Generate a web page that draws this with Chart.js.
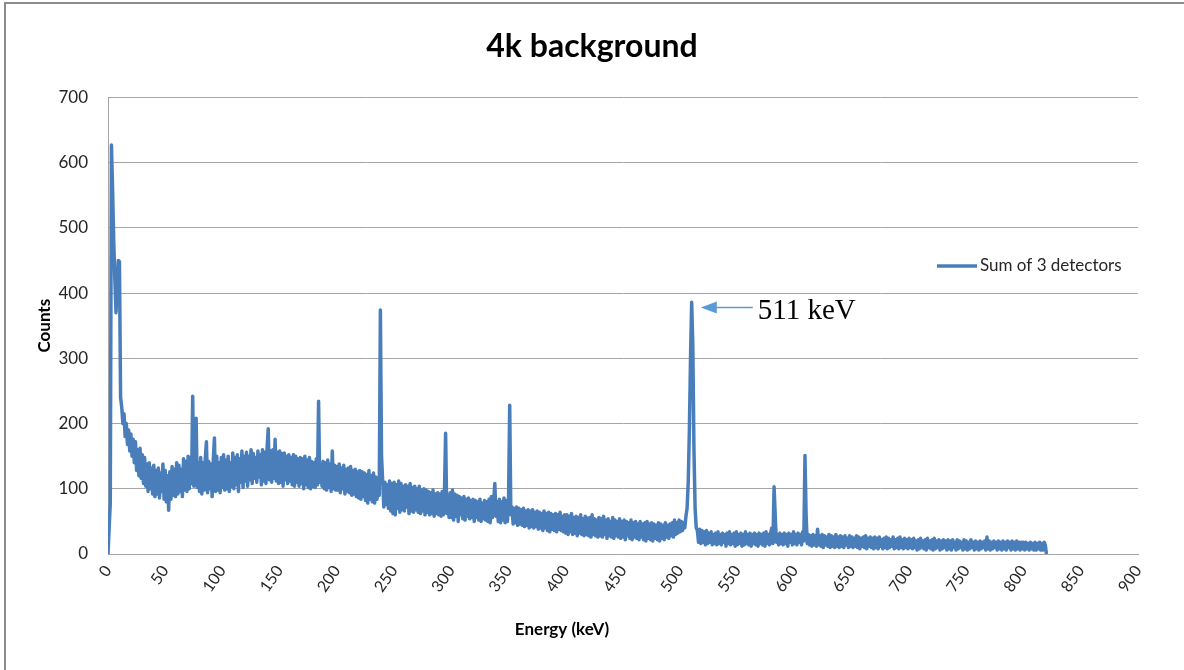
<!DOCTYPE html>
<html lang="en">
<head>
    <meta charset="UTF-8">
    <title>4k background</title>
    <script src="https://cdn.jsdelivr.net/npm/chart.js"></script>
    <style>
        body {
            margin: 0;
            background: #ffffff;
        }
        #wrap {
            width: 1184px;
            height: 670px;
        }
    </style>
</head>
<body>
    <div id="wrap">
        <canvas id="spectrum" width="1184" height="670"></canvas>
    </div>

    <script>
        // Spectrum, one value per 1 keV bin starting at 0 keV.
        // Neighbouring bins swing between the top and bottom of the noise band.
        const binWidth = 1;

        const counts000 = [
            0, 40, 78, 627, 560, 480, 420, 370, 410, 450,
            448, 240, 225, 200, 215, 180, 200, 168, 190, 158,
            184, 150, 176, 140, 172, 128, 160, 120, 162, 116,
            152, 108, 148, 104, 138, 96, 140, 100, 132, 92,
            136, 88, 128, 92, 132, 86, 124, 96, 138, 84,
            128, 80, 120, 67, 126, 84, 134, 90, 130, 88,
            140, 92, 136, 96, 130, 88, 146, 98, 142, 96,
            150, 100, 148, 108, 242, 104, 126, 208, 102, 140,
            96, 148, 92, 140, 98, 146, 172, 94, 142, 100,
            138, 88, 144, 178, 96, 150, 98, 140, 94, 148];
        const counts100 = [
            102, 152, 98, 144, 100, 150, 96, 140, 104, 155,
            100, 148, 106, 152, 96, 146, 110, 158, 102, 150,
            112, 156, 104, 150, 114, 160, 108, 154, 116, 148,
            110, 158, 118, 152, 106, 160, 112, 156, 108, 162,
            192, 114, 158, 110, 160, 116, 176, 112, 156, 108,
            158, 110, 154, 104, 155, 114, 150, 108, 152, 112,
            148, 106, 152, 104, 150, 110, 146, 104, 148, 108,
            146, 100, 150, 106, 144, 102, 148, 100, 142, 104,
            140, 102, 146, 106, 234, 110, 138, 104, 142, 100,
            140, 98, 144, 102, 138, 96, 158, 100, 136, 98];
        const counts200 = [
            134, 98, 138, 94, 132, 100, 136, 92, 130, 96,
            132, 94, 134, 90, 128, 92, 130, 88, 126, 86,
            128, 84, 126, 88, 124, 82, 122, 78, 128, 84,
            120, 80, 124, 78, 118, 84, 100, 90, 374, 150,
            112, 72, 110, 76, 106, 70, 112, 66, 108, 62,
            110, 60, 106, 70, 112, 64, 108, 68, 104, 66,
            106, 72, 104, 62, 108, 66, 102, 64, 104, 68,
            100, 64, 104, 62, 98, 66, 100, 60, 98, 64,
            96, 60, 94, 62, 98, 58, 92, 62, 94, 60,
            92, 58, 96, 60, 94, 185, 62, 90, 56, 94];
        const counts300 = [
            56, 98, 52, 92, 58, 90, 50, 88, 60, 86,
            54, 88, 52, 84, 58, 86, 54, 82, 56, 84,
            50, 82, 56, 80, 52, 84, 50, 78, 54, 82,
            52, 80, 50, 84, 48, 88, 56, 82, 108, 58,
            80, 50, 84, 48, 80, 52, 86, 48, 82, 50,
            84, 228, 60, 72, 46, 70, 48, 72, 44, 70,
            46, 68, 44, 70, 42, 66, 44, 68, 40, 66,
            42, 68, 40, 64, 42, 66, 38, 64, 40, 62,
            36, 66, 40, 62, 36, 64, 34, 62, 38, 60,
            36, 62, 34, 60, 38, 64, 36, 58, 34, 60];
        const counts400 = [
            32, 60, 30, 58, 34, 62, 30, 56, 32, 58,
            28, 56, 32, 60, 30, 54, 28, 58, 30, 55,
            28, 56, 26, 60, 30, 54, 28, 52, 26, 56,
            28, 54, 26, 58, 30, 52, 24, 54, 28, 50,
            26, 56, 24, 52, 28, 50, 26, 54, 24, 50,
            26, 52, 22, 50, 28, 48, 24, 52, 22, 48,
            26, 50, 24, 46, 22, 50, 26, 46, 22, 48,
            20, 50, 24, 46, 22, 48, 20, 46, 24, 44,
            22, 48, 20, 46, 24, 44, 22, 48, 26, 44,
            24, 46, 28, 48, 26, 52, 30, 48, 32, 52];
        const counts500 = [
            34, 50, 36, 48, 40, 58, 70, 110, 190, 300,
            386, 320, 160, 70, 40, 36, 18, 38, 16, 36,
            18, 34, 14, 36, 16, 32, 18, 34, 14, 30,
            16, 32, 14, 34, 16, 30, 14, 32, 18, 30,
            12, 32, 16, 34, 14, 30, 16, 32, 12, 34,
            14, 30, 16, 32, 12, 30, 14, 34, 16, 30,
            14, 32, 12, 30, 16, 32, 14, 30, 12, 32,
            16, 30, 14, 32, 12, 34, 16, 30, 14, 32,
            40, 16, 103, 60, 18, 30, 14, 32, 16, 30,
            14, 32, 16, 30, 12, 32, 18, 30, 14, 34];
        const counts600 = [
            16, 30, 14, 32, 18, 30, 14, 34, 20, 151,
            60, 16, 30, 14, 28, 12, 30, 14, 28, 12,
            38, 14, 28, 12, 30, 10, 28, 14, 26, 12,
            30, 10, 28, 12, 26, 10, 30, 12, 26, 10,
            28, 12, 26, 10, 28, 14, 24, 10, 28, 12,
            26, 10, 24, 12, 28, 10, 26, 8, 24, 12,
            26, 10, 28, 8, 24, 12, 26, 10, 24, 8,
            26, 10, 24, 8, 26, 12, 22, 8, 24, 10,
            26, 8, 24, 10, 22, 12, 26, 8, 22, 10,
            24, 8, 26, 10, 22, 8, 24, 10, 22, 8];
        const counts700 = [
            24, 10, 22, 8, 24, 10, 20, 6, 22, 8,
            24, 10, 20, 8, 22, 6, 24, 10, 20, 8,
            22, 6, 24, 8, 20, 10, 22, 6, 20, 8,
            22, 10, 20, 6, 22, 8, 20, 6, 22, 10,
            18, 6, 22, 8, 20, 10, 18, 6, 22, 8,
            20, 6, 18, 8, 22, 10, 18, 6, 20, 8,
            18, 6, 20, 8, 18, 10, 20, 6, 26, 8,
            20, 6, 18, 8, 20, 10, 18, 6, 20, 8,
            18, 6, 20, 8, 18, 6, 20, 10, 18, 6,
            20, 8, 18, 6, 20, 8, 18, 6, 18, 8];
        const counts800 = [
            18, 6, 18, 8, 16, 6, 18, 8, 16, 6,
            18, 6, 16, 8, 18, 6, 16, 6, 18, 14, 0];

        const xTickStep = 50;
        const yTickStep = 100;

        const counts = [].concat(counts000, counts100, counts200, counts300,
            counts400, counts500, counts600, counts700, counts800);
        const points = counts.map((c, i) => ({ x: i * binWidth, y: c }));

        const lineColor = '#4a7ebb';
        const gridColor = '#a6a6a6';
        const uiFont = 'Lato, "Noto Sans", sans-serif';

        // Frame, legend, axis title and the 511 keV note
        const extras = {
            id: 'extras',
            beforeDraw(chart) {
                const ctx = chart.ctx;
                ctx.save();
                ctx.fillStyle = '#ffffff';
                ctx.fillRect(0, 0, chart.width, chart.height);
                ctx.strokeStyle = '#8c8c8c';
                ctx.lineWidth = 2;
                ctx.beginPath();
                ctx.moveTo(5, chart.height);
                ctx.lineTo(5, 3);
                ctx.lineTo(chart.width, 3);
                ctx.stroke();
                ctx.restore();
            },
            afterDraw(chart) {
                const ctx = chart.ctx;
                const xs = chart.scales.x;
                const ys = chart.scales.y;
                ctx.save();

                // legend
                const ds = chart.data.datasets[0];
                ctx.strokeStyle = ds.borderColor;
                ctx.lineWidth = 3.5;
                ctx.beginPath();
                ctx.moveTo(937, 266);
                ctx.lineTo(977, 266);
                ctx.stroke();
                ctx.fillStyle = '#262626';
                ctx.font = '17px ' + uiFont;
                ctx.textBaseline = 'middle';
                ctx.textAlign = 'left';
                ctx.fillText(ds.label, 980, 266);

                // x axis title (Excel puts it left of centre)
                ctx.font = 'bold 17px ' + uiFont;
                ctx.fillStyle = '#000000';
                ctx.textAlign = 'center';
                ctx.fillText('Energy (keV)', 562, 630);

                // arrow to the annihilation peak
                const tipX = xs.getPixelForValue(511) + 8;
                const tipY = ys.getPixelForValue(378);
                ctx.strokeStyle = '#5b9bd5';
                ctx.fillStyle = '#5b9bd5';
                ctx.lineWidth = 1.5;
                ctx.beginPath();
                ctx.moveTo(tipX + 14, tipY);
                ctx.lineTo(tipX + 52, tipY);
                ctx.stroke();
                ctx.beginPath();
                ctx.moveTo(tipX, tipY);
                ctx.lineTo(tipX + 16, tipY - 6);
                ctx.lineTo(tipX + 16, tipY + 6);
                ctx.closePath();
                ctx.fill();

                ctx.fillStyle = '#000000';
                ctx.font = '29px "Liberation Serif", "DejaVu Serif", serif';
                ctx.textAlign = 'left';
                ctx.fillText('511 keV', tipX + 57, tipY + 4);
                ctx.restore();
            }
        };

        new Chart(document.getElementById('spectrum').getContext('2d'), {
            type: 'line',
            data: {
                datasets: [{
                    label: 'Sum of 3 detectors',
                    data: points,
                    borderColor: lineColor,
                    backgroundColor: lineColor,
                    borderWidth: 3.5,
                    borderJoinStyle: 'round',
                    pointRadius: 0,
                    tension: 0,
                    fill: false
                }]
            },
            options: {
                responsive: false,
                animation: false,
                layout: { padding: 0 },
                scales: {
                    x: {
                        type: 'linear',
                        min: 0,
                        max: 900,
                        afterFit(scale) { scale.height = 116; },
                        ticks: {
                            stepSize: xTickStep,
                            minRotation: 55,
                            maxRotation: 55,
                            padding: 8,
                            color: '#262626',
                            font: { family: uiFont, size: 16 }
                        },
                        grid: { display: false, drawTicks: false },
                        border: { display: true, color: gridColor, width: 1 }
                    },
                    y: {
                        min: 0,
                        max: 700,
                        afterFit(scale) { scale.width = 108; },
                        ticks: {
                            stepSize: yTickStep,
                            padding: 20,
                            color: '#262626',
                            font: { family: uiFont, size: 17 }
                        },
                        grid: { color: gridColor, drawTicks: false },
                        border: { display: true, color: gridColor, width: 1 },
                        title: {
                            display: true,
                            text: 'Counts',
                            color: '#000000',
                            font: { family: uiFont, size: 17, weight: 'bold' },
                            padding: { top: 34, bottom: 0 }
                        }
                    },
                    // empty strip on the right, keeps the title centred on the page
                    yRight: {
                        position: 'right',
                        display: true,
                        afterFit(scale) { scale.width = 46; },
                        ticks: { display: false },
                        grid: { display: false, drawTicks: false },
                        border: { display: false }
                    }
                },
                plugins: {
                    legend: { display: false },
                    tooltip: { enabled: false },
                    title: {
                        display: true,
                        text: '4k background',
                        color: '#000000',
                        font: { family: uiFont, size: 32, weight: 'bold' },
                        padding: { top: 27, bottom: 32 }
                    }
                }
            },
            plugins: [extras]
        });
    </script>
</body>
</html>
